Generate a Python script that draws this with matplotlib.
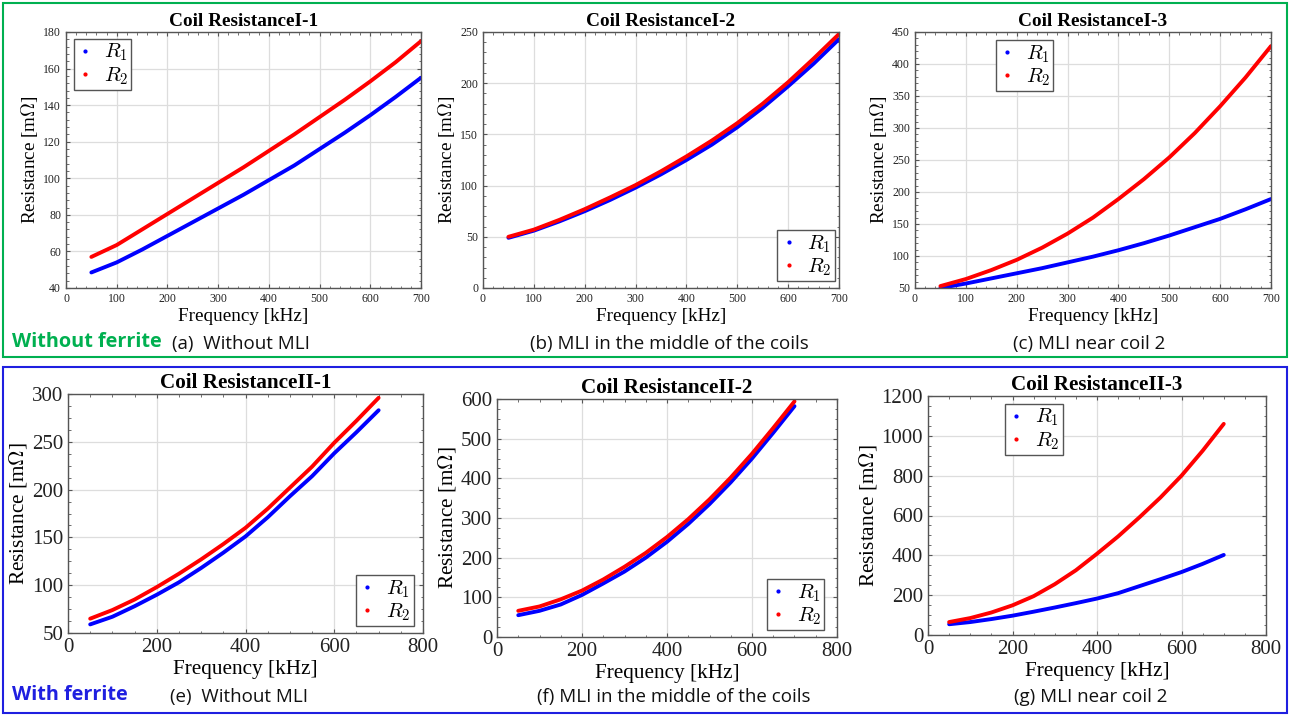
import numpy as np
import matplotlib
matplotlib.use("Agg")
from matplotlib import pyplot as plt
from matplotlib.lines import Line2D
from matplotlib.patches import Rectangle
from matplotlib.ticker import AutoMinorLocator

plt.rcParams['font.family'] = ['Liberation Serif', 'DejaVu Serif']
plt.rcParams['mathtext.fontset'] = 'cm'

"""------------------------------- Data -------------------------------"""

freq = [50, 100, 150, 200, 250, 300, 350, 400, 450, 500, 550, 600, 650, 700]

# without ferrite
r1_a = [48.5, 54, 61, 68.5, 76, 83.5, 91, 99, 107, 116, 125, 134.5, 144.5, 155]
r2_a = [57, 63.5, 72, 80.5, 89, 97.5, 106, 115, 124, 133.5, 143, 153, 163.5, 175]
r1_b = [49, 56, 65, 75, 86, 98, 111, 125, 140, 157, 176, 197, 219, 243]
r2_b = [50, 57, 66.5, 77, 88.5, 100.5, 114, 128.5, 144, 161, 180, 201, 224, 248]
r1_c = [50, 57, 65, 73, 81, 90, 99, 109, 120, 132, 145, 158, 173, 189]
r2_c = [53, 64, 78, 94, 113, 135, 160, 189, 220, 254, 292, 334, 379, 428]

# with ferrite
r1_e = [59, 67, 78, 90, 103, 118, 134, 151, 171, 193, 214, 238, 260, 283]
r2_e = [65, 74, 85, 98, 112, 127, 143, 160, 180, 202, 224, 249, 272, 296]
r1_f = [55, 66, 82, 106, 135, 165, 200, 240, 285, 335, 390, 450, 515, 582]
r2_f = [66, 77, 95, 117, 145, 177, 212, 252, 297, 347, 402, 462, 527, 594]
r1_g = [54, 65, 80, 97, 117, 138, 160, 183, 210, 245, 280, 316, 357, 402]
r2_g = [65, 85, 113, 149, 195, 255, 325, 408, 495, 590, 690, 800, 925, 1060]

titles = ['Coil ResistanceI-1', 'Coil ResistanceI-2', 'Coil ResistanceI-3',
          'Coil ResistanceII-1', 'Coil ResistanceII-2', 'Coil ResistanceII-3']
captions = ['(a)  Without MLI', '(b) MLI in the middle of the coils',
            '(c) MLI near coil 2', '(e)  Without MLI',
            '(f) MLI in the middle of the coils', '(g) MLI near coil 2']

"""----------------------------- Plotting -----------------------------"""

W, H = 1291, 717
fig = plt.figure(figsize=(W / 100, H / 100), dpi=100)


def px_rect(x0, y0, x1, y1):
    return [x0 / W, 1 - y1 / H, (x1 - x0) / W, (y1 - y0) / H]


def fx(x):
    return x / W


def fy(y):
    return 1 - y / H


# frames around the two rows
fig.patches.append(Rectangle((fx(3), fy(357)), fx(1284), 354 / H,
                             transform=fig.transFigure, fill=False,
                             edgecolor='#00B050', lw=1.5))
fig.patches.append(Rectangle((fx(3), fy(713)), fx(1284), 346 / H,
                             transform=fig.transFigure, fill=False,
                             edgecolor='#1F1FE0', lw=1.5))

panels = [
    dict(rect=(66, 32, 421, 288), r1=r1_a, r2=r2_a, xlim=(0, 700),
         ylim=(40, 180), yticks=range(40, 181, 20), xticks=range(0, 701, 100),
         leg=dict(loc='upper left', bbox_to_anchor=(0.01, 0.99)), top=True),
    dict(rect=(483, 32, 839, 288), r1=r1_b, r2=r2_b, xlim=(0, 700),
         ylim=(0, 250), yticks=range(0, 251, 50), xticks=range(0, 701, 100),
         leg=dict(loc='lower right', bbox_to_anchor=(1.0, 0.01)), top=True),
    dict(rect=(915, 32, 1271, 288), r1=r1_c, r2=r2_c, xlim=(0, 700),
         ylim=(50, 450), yticks=range(50, 451, 50), xticks=range(0, 701, 100),
         leg=dict(loc='upper left', bbox_to_anchor=(0.215, 0.985)), top=True),
    dict(rect=(68, 394, 423, 633), r1=r1_e, r2=r2_e, xlim=(0, 800),
         ylim=(50, 300), yticks=range(50, 301, 50), xticks=range(0, 801, 200),
         leg=dict(loc='lower right', bbox_to_anchor=(0.985, 0.01)), top=False),
    dict(rect=(497, 399, 837, 637), r1=r1_f, r2=r2_f, xlim=(0, 800),
         ylim=(0, 600), yticks=range(0, 601, 100), xticks=range(0, 801, 200),
         leg=dict(loc='lower right', bbox_to_anchor=(0.975, 0.01)), top=False),
    dict(rect=(928, 396, 1266, 635), r1=r1_g, r2=r2_g, xlim=(0, 800),
         ylim=(0, 1200), yticks=range(0, 1201, 200), xticks=range(0, 801, 200),
         leg=dict(loc='upper left', bbox_to_anchor=(0.215, 0.985)), top=False),
]

for i, p in enumerate(panels):
    ax = fig.add_axes(px_rect(*p['rect']))
    ax.plot(freq, p['r1'], color='#0000FF', lw=2.8, solid_capstyle='round')
    ax.plot(freq, p['r2'], color='#FF0000', lw=2.8, solid_capstyle='round')
    ax.set_xlim(*p['xlim'])
    ax.set_ylim(*p['ylim'])
    ax.set_xticks(list(p['xticks']))
    ax.set_yticks(list(p['yticks']))
    ax.xaxis.set_minor_locator(AutoMinorLocator(5 if p['top'] else 4))
    ax.yaxis.set_minor_locator(AutoMinorLocator(5 if p['top'] else 4))
    ax.grid(True, color='#dddddd', lw=0.9)
    ax.set_axisbelow(True)
    tick_fs = 8.5 if p['top'] else 15
    lab_fs = 13.8 if p['top'] else 15.3
    ax.tick_params(which='both', direction='in', top=True, right=True,
                   color='#555555', labelsize=tick_fs, labelcolor='#222222')
    ax.tick_params(which='major', length=3)
    ax.tick_params(which='minor', length=1.8)
    for s in ax.spines.values():
        s.set_color('#555555')
        s.set_linewidth(1.0)
    ax.set_title(titles[i], fontsize=13.9 if p['top'] else 15.2,
                 fontweight='bold', pad=4)
    ax.set_xlabel('Frequency [kHz]', fontsize=lab_fs, labelpad=2)
    ax.set_ylabel(r'Resistance [m$\Omega$]', fontsize=lab_fs, labelpad=2)
    handles = [Line2D([], [], ls='none', marker='.', ms=4, color='#0000FF'),
               Line2D([], [], ls='none', marker='.', ms=4, color='#FF0000')]
    leg = ax.legend(handles, [r'$R_1$', r'$R_2$'], fontsize=15,
                    fancybox=False, framealpha=1, edgecolor='#555555',
                    handlelength=0.8, handletextpad=0.5, borderpad=0.15,
                    labelspacing=0.1, borderaxespad=0.2, **p['leg'])
    leg.get_frame().set_linewidth(1.0)

# captions
cap_font = ['Open Sans', 'DejaVu Sans']
cap_pos = [(172, 344, 'left'), (669, 344, 'center'), (1089, 344, 'center'),
           (170, 697, 'left'), (674, 697, 'center'), (1091, 697, 'center')]
for (x, y, ha), text in zip(cap_pos, captions):
    fig.text(fx(x), fy(y), text, ha=ha, va='center', fontsize=13.5,
             family=cap_font, color='#111111')

fig.text(fx(12), fy(342), 'Without ferrite', ha='left', va='center',
         fontsize=14.3, fontweight='bold', family=cap_font, color='#00B050')
fig.text(fx(12), fy(695), 'With ferrite', ha='left', va='center',
         fontsize=14.3, fontweight='bold', family=cap_font, color='#1F1FE0')

fig.savefig('out.png', dpi=100)
